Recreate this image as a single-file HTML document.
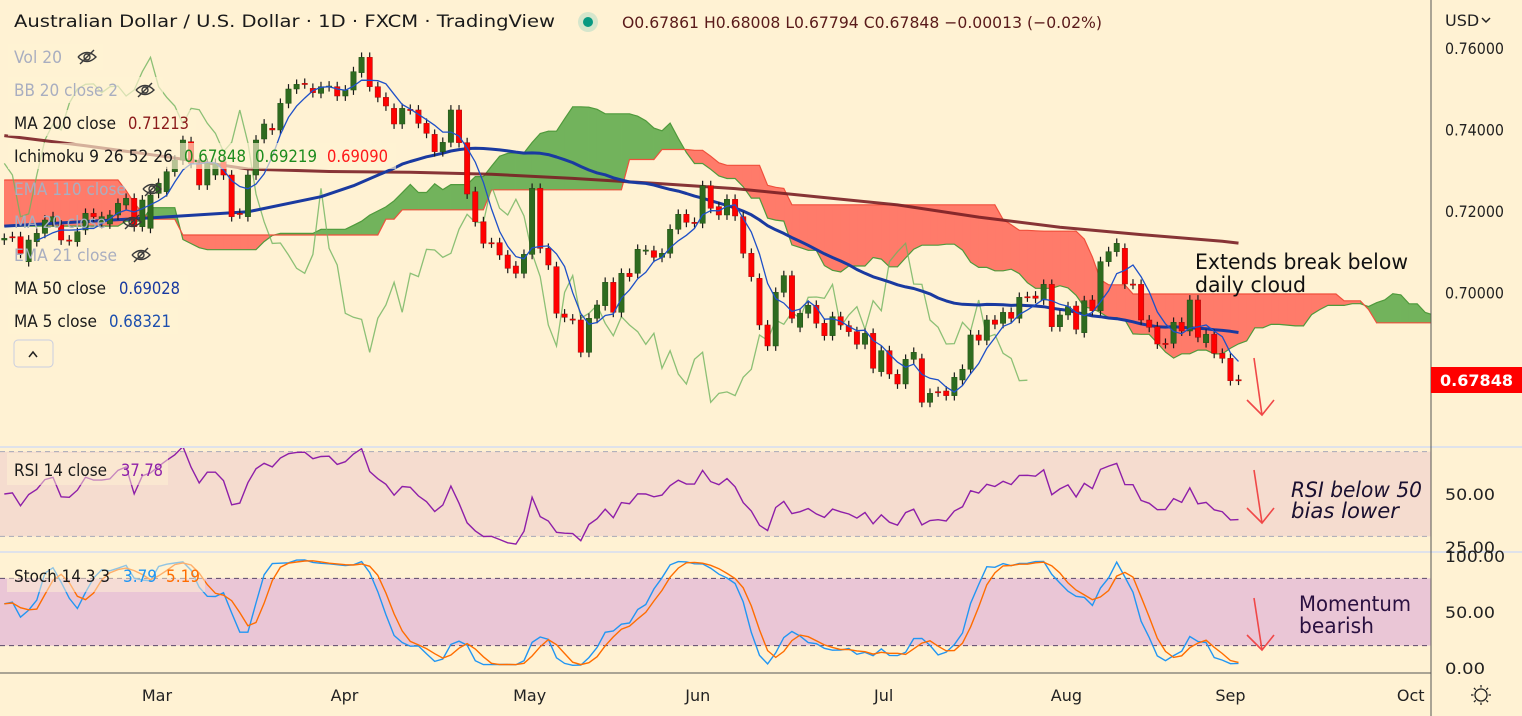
<!DOCTYPE html>
<html><head><meta charset="utf-8">
<style>
html,body{margin:0;padding:0;background:#fff2d3;}
svg{display:block;font-family:"DejaVu Sans","Liberation Sans",sans-serif;}
</style></head>
<body>
<svg id="chart" width="1522" height="716" viewBox="0 0 1522 716" xmlns="http://www.w3.org/2000/svg">
<defs>
<clipPath id="clipMain"><rect x="0" y="0" width="1431" height="447"/></clipPath>
<clipPath id="clipRsi"><rect x="0" y="447" width="1431" height="105"/></clipPath>
<clipPath id="clipSto"><rect x="0" y="552" width="1431" height="121"/></clipPath>
</defs>
<rect x="0" y="0" width="1522" height="716" fill="#fff2d3"/>
<g id="main" clip-path="url(#clipMain)"></g>
<g id="rsi" clip-path="url(#clipRsi)"></g>
<g id="sto" clip-path="url(#clipSto)"></g>
<g id="axes"></g>
<g id="overlay"></g>
</svg>
<script>
// ---------- DATA ----------
const opens = [0.71288,0.71370,0.71370,0.70757,0.71247,0.71452,0.71738,0.71656,0.71288,0.71247,
0.71534,0.71943,0.71697,0.71681,0.71902,0.72147,0.72311,0.71615,0.71575,0.72433,
0.72474,0.72965,0.73251,0.73701,0.73169,0.72638,0.72883,0.73210,0.72883,0.71943,
0.71861,0.72883,0.73767,0.74029,0.73988,0.74642,0.74994,0.75133,0.75010,0.74887,
0.75051,0.75051,0.74822,0.74969,0.75395,0.75771,0.75051,0.74789,0.74519,0.74135,
0.74495,0.74479,0.74151,0.73881,0.73456,0.73685,0.74479,0.73677,0.72474,0.71738,
0.71223,0.71223,0.70920,0.70650,0.70470,0.70936,0.72556,0.71084,0.70634,0.69473,
0.69350,0.69326,0.68532,0.69367,0.69677,0.70250,0.69514,0.70471,0.70471,0.71043,
0.71027,0.70863,0.70962,0.71551,0.71919,0.71722,0.71698,0.72622,0.72107,0.71902,
0.72287,0.71861,0.70962,0.70348,0.69203,0.68688,0.70004,0.70414,0.69146,0.69489,
0.69686,0.69244,0.68941,0.69407,0.69187,0.69039,0.68729,0.68998,0.68058,0.68573,
0.67992,0.67755,0.68360,0.68377,0.67305,0.67567,0.67583,0.67469,0.67853,0.68115,
0.68958,0.68827,0.69325,0.69243,0.69513,0.69366,0.69898,0.69914,0.69816,0.70200,
0.69161,0.69448,0.69669,0.69014,0.69816,0.69554,0.70757,0.71002,0.71084,0.70208,
0.70200,0.69325,0.69161,0.68752,0.68752,0.69268,0.69055,0.69816,0.68769,0.68973,
0.68507,0.68384,0.67861];
const closes = [0.71329,0.71362,0.70961,0.71288,0.71452,0.71779,0.71861,0.71288,0.71272,0.71493,
0.71943,0.71861,0.71861,0.71902,0.72188,0.72311,0.71615,0.72270,0.72393,0.72679,
0.72965,0.73251,0.73742,0.73169,0.72638,0.73169,0.73169,0.72883,0.71861,0.71930,
0.72883,0.73742,0.74135,0.73988,0.74642,0.74994,0.75108,0.75120,0.74904,0.75051,
0.75067,0.74822,0.74969,0.75419,0.75771,0.75051,0.74789,0.74577,0.74135,0.74519,
0.74487,0.74151,0.73906,0.73456,0.73685,0.74479,0.73677,0.72417,0.71738,0.71206,
0.71215,0.70920,0.70593,0.70470,0.70936,0.72556,0.71084,0.70675,0.69489,0.69391,
0.69340,0.68532,0.69367,0.69694,0.70250,0.69514,0.70471,0.70389,0.71060,0.71043,
0.70863,0.70962,0.71551,0.71919,0.71722,0.71715,0.72622,0.72066,0.71902,0.72287,
0.71878,0.70962,0.70389,0.69203,0.68688,0.70004,0.70414,0.69367,0.69489,0.69686,
0.69244,0.68941,0.69407,0.69203,0.69039,0.68729,0.68998,0.68140,0.68573,0.68000,
0.67755,0.68360,0.68532,0.67305,0.67526,0.67560,0.67469,0.67919,0.68115,0.68958,
0.68827,0.69326,0.69219,0.69513,0.69366,0.69881,0.69890,0.69857,0.70200,0.69161,
0.69448,0.69652,0.69096,0.69799,0.69554,0.70757,0.71002,0.71207,0.70208,0.70200,
0.69325,0.69145,0.68736,0.68745,0.69268,0.69055,0.69816,0.68900,0.68973,0.68507,
0.68384,0.67836,0.67848];
const ma200Bars = [0,10,20,30,40,50,60,70,80,90,100,110,120,130,140,150,152];
const ma200Vals = [0.7385,0.7360,0.7333,0.7303,0.7297,0.7295,0.7290,0.7280,0.7268,0.7255,0.7235,0.7215,0.7185,0.7160,0.7142,0.7126,0.71213];
const ma50EarlyBars = [0,18,30,39,43,48];
const ma50EarlyVals = [0.7163,0.7183,0.7198,0.7235,0.7262,0.7305];
const spanAEarly = [0.7163,0.7163,0.7163,0.7163,0.7163,0.7163,0.7163,0.7163,0.7163,0.7163,
0.7163,0.7163,0.7163,0.7163,0.7163,0.7175,0.7175,0.7175,0.7208,0.7208,
0.7208,0.7208,0.7130,0.7120,0.7110,0.7105,0.7105,0.7105,0.7105,0.7105,
0.7105,0.7105,0.7125,0.7140,0.7145,0.7145,0.7145,0.7145,0.7145,0.7155,
0.7155,0.7155,0.7155,0.7165,0.7175,0.7190,0.7200,0.7210,0.7225,0.7245,0.7265];
const spanBEarly = [0.7276,0.7276,0.7276,0.7276,0.7276,0.7276,0.7276,0.7276,0.7276,0.7276,
0.7276,0.7276,0.7276,0.7276,0.7276,0.7250,0.7220,0.7195,0.7180,0.7180,
0.7180,0.7180,0.7141,0.7141,0.7141,0.7141,0.7141,0.7141,0.7141,0.7141,
0.7141,0.7141,0.7141,0.7141,0.7141,0.7141,0.7141,0.7141,0.7141,0.7141,
0.7141,0.7141,0.7141,0.7141,0.7141,0.7141,0.7141,0.7180,0.7180,0.7203,
0.7203,0.7203,0.7203,0.7203,0.7203,0.7203,0.7203,0.7203,0.7203,0.7203,
0.7252,0.7252,0.7252,0.7252,0.7252,0.7252,0.7252,0.7252,0.7252,0.7252,
0.7252,0.7252,0.7252,0.7252,0.7252,0.7252,0.7252];
const priceTicks = [0.76,0.74,0.72,0.70];
const priceTickLabels = ["0.76000","0.74000","0.72000","0.70000"];
const rsiTicks = [50,25];
const rsiTickLabels = ["50.00","25.00"];
const stoTicks = [100,50,0];
const stoTickLabels = ["100.00","50.00","0.00"];
const monthLabels = ["Mar","Apr","May","Jun","Jul","Aug","Sep","Oct"];
const monthBars = [18.8,41.9,64.7,85.4,108.3,130.8,151,173.2];

// ---------- SCALES ----------
const NS="http://www.w3.org/2000/svg";
const xB = i => 4.3 + i*8.12;
const yP = p => 48 + (0.76 - p)*4075;
const yR = v => 494 + (50 - v)*2.12;
const yS = v => 668 - v*1.12;
const N = closes.length;
const WICK = 0.0012;
const highs = closes.map((c,i)=>Math.max(c,opens[i])+WICK);
const lows = closes.map((c,i)=>Math.min(c,opens[i])-WICK);

function mk(tag, attrs, parent){const e=document.createElementNS(NS,tag);for(const k in attrs)e.setAttribute(k,attrs[k]);parent.appendChild(e);return e;}
function poly(pts){return pts.map(p=>p[0].toFixed(1)+","+p[1].toFixed(1)).join(" ");}
const main=document.getElementById('main'), rsiG=document.getElementById('rsi'), stoG=document.getElementById('sto'), axes=document.getElementById('axes'), ov=document.getElementById('overlay');

// ---------- ICHIMOKU CLOUD ----------
function hh(a,b){let m=-1;for(let k=a;k<=b;k++)m=Math.max(m,highs[k]);return m;}
function ll(a,b){let m=9;for(let k=a;k<=b;k++)m=Math.min(m,lows[k]);return m;}
const spanA=[],spanB=[];
for(let j=0;j<N+26;j++){
  const s=j-26;
  if(j<spanAEarly.length) spanA.push(spanAEarly[j]);
  else {const t=(hh(s-8,s)+ll(s-8,s))/2, kj=(hh(s-25,s)+ll(s-25,s))/2; spanA.push((t+kj)/2);}
  if(j<spanBEarly.length) spanB.push(spanBEarly[j]);
  else spanB.push((hh(s-51,s)+ll(s-51,s))/2);
}
const cloudG=mk('g',{},main);


for(let j=0;j<spanA.length-1;j++){
  const up=(spanA[j]+spanA[j+1])>=(spanB[j]+spanB[j+1]);
  const q=mk('polygon',{points:poly([[xB(j),yP(spanA[j])],[xB(j+1),yP(spanA[j+1])],[xB(j+1),yP(spanB[j+1])],[xB(j),yP(spanB[j])]]),fill:up?'#72b35c':'#ff7b6a',stroke:up?'#72b35c':'#ff7b6a','stroke-width':0.6},cloudG);
  
  
}
const saL=mk('polyline',{points:poly(spanA.map((v,j)=>[xB(j),yP(v)])),fill:'none',stroke:'#4f9a3c','stroke-width':1.2},main);


const sbL=mk('polyline',{points:poly(spanB.map((v,j)=>[xB(j),yP(v)])),fill:'none',stroke:'#f0503c','stroke-width':1.2},main);



const lag=mk('polyline',{points:poly(closes.slice(26).map((c,k)=>[xB(k),yP(c)])),fill:'none',stroke:'#6fb35e','stroke-opacity':0.8,'stroke-width':1.3},main);



const m200=mk('polyline',{points:poly(ma200Bars.map((b,k)=>[xB(b),yP(ma200Vals[k])])),fill:'none',stroke:'#7a1f25','stroke-width':3,'stroke-opacity':0.9},main);


const ma50pts=ma50EarlyBars.map((b,k)=>[xB(b),yP(ma50EarlyVals[k])]);
for(let i=49;i<N;i++){let s=0;for(let k=i-49;k<=i;k++)s+=closes[k];ma50pts.push([xB(i),yP(s/50)]);}
const m50=mk('polyline',{points:poly(ma50pts),fill:'none',stroke:'#1a3aa0','stroke-width':3,'stroke-linejoin':'round'},main);



const cg=mk('g',{},main);


for(let i=0;i<N;i++){
  const up=closes[i]>=opens[i], x=xB(i);
  const g=mk('g',{},cg);
  
  
  mk('line',{x1:x,x2:x,y1:yP(highs[i]),y2:yP(lows[i]),stroke:'#1a1a1a','stroke-width':1.2},g);
  const t=yP(Math.max(opens[i],closes[i])), b=yP(Math.min(opens[i],closes[i]));
  mk('rect',{x:x-2.7,y:t,width:5.4,height:Math.max(1.2,b-t),fill:up?'#2e6b1f':'#ff0000',stroke:up?'#1f4f14':'#a01010','stroke-width':0.5},g);
}
const ma5pts=[];for(let i=4;i<N;i++){let s=0;for(let k=i-4;k<=i;k++)s+=closes[k];ma5pts.push([xB(i),yP(s/5)]);}
const m5=mk('polyline',{points:poly(ma5pts),fill:'none',stroke:'#1e50c8','stroke-width':1.3},main);



// ---------- RSI ----------
const rb=mk('rect',{x:0,y:yR(70),width:1431,height:yR(30)-yR(70),fill:'#f5dccf'},rsiG);


[70,30].forEach(v=>{const l=mk('line',{x1:0,x2:1431,y1:yR(v),y2:yR(v),stroke:'#a8a8b8','stroke-dasharray':'5,4'},rsiG);});
let ag=0.0012,al=0.0012;const rsi=[50];
for(let i=1;i<N;i++){const d=closes[i]-closes[i-1];const g=Math.max(d,0),l=Math.max(-d,0);ag=(ag*13+g)/14;al=(al*13+l)/14;rsi.push(100-100/(1+ag/al));}
const rl=mk('polyline',{points:poly(rsi.map((v,i)=>[xB(i),yR(v)])),fill:'none',stroke:'#8e1fa8','stroke-width':1.4},rsiG);



// ---------- STOCH ----------
const sb=mk('rect',{x:0,y:yS(80),width:1431,height:yS(20)-yS(80),fill:'#eac6d6'},stoG);


[80,20].forEach(v=>{const l=mk('line',{x1:0,x2:1431,y1:yS(v),y2:yS(v),stroke:'#5a4a6a','stroke-dasharray':'5,4'},stoG);});
const raw=[];for(let i=0;i<N;i++){const a=Math.max(0,i-13);const H=hh(a,i),L=ll(a,i);raw.push((closes[i]-L)/(H-L)*100);}
const sma3=a=>a.map((v,i)=>{const s=a.slice(Math.max(0,i-2),i+1);return s.reduce((x,y)=>x+y,0)/s.length;});
const K=sma3(raw),D=sma3(K);
const kl=mk('polyline',{points:poly(K.map((v,i)=>[xB(i),yS(v)])),fill:'none',stroke:'#2196f3','stroke-width':1.4},stoG);


const dl=mk('polyline',{points:poly(D.map((v,i)=>[xB(i),yS(v)])),fill:'none',stroke:'#ff6d00','stroke-width':1.4},stoG);



// ---------- AXES ----------
mk('line',{x1:0,x2:1522,y1:447,y2:447,stroke:'#dfe2ea','stroke-width':2},axes);
mk('line',{x1:0,x2:1522,y1:552,y2:552,stroke:'#dfe2ea','stroke-width':2},axes);
mk('line',{x1:1431,x2:1431,y1:0,y2:716,stroke:'#555','stroke-width':1},axes);
mk('line',{x1:0,x2:1431,y1:673,y2:673,stroke:'#555','stroke-width':1},axes);
function txt(s,x,y,attrs,parent,name,inter){const t=mk('text',Object.assign({x:x,y:y},attrs),parent||ov);t.textContent=s;return t;}
const AX={'font-size':16,fill:'#222',textLength:59,lengthAdjust:'spacingAndGlyphs'};
priceTicks.forEach((v,k)=>txt(priceTickLabels[k],1445,yP(v)+6,AX,axes,'price-tick-label',false));
rsiTicks.forEach((v,k)=>txt(rsiTickLabels[k],1445,yR(v)+6,Object.assign({},AX,{textLength:50}),axes,'rsi-tick-label',false));
stoTicks.forEach((v,k)=>txt(stoTickLabels[k],1445,yS(v)+6,Object.assign({},AX,{textLength:stoTickLabels[k].length*10}),axes,'stoch-tick-label',false));
monthLabels.forEach((m,k)=>txt(m,xB(monthBars[k]),701,{'font-size':16,fill:'#222','text-anchor':'middle'},axes,'month-label',false));
const lpl=mk('rect',{x:1431,y:367,width:91,height:26,fill:'#ff0000'},axes);


txt('0.67848',1440,386,{'font-size':16,'font-weight':'bold',fill:'#fff',textLength:73,lengthAdjust:'spacingAndGlyphs'},axes,'last-price-text',false);
txt('USD',1445,26,{'font-size':16,fill:'#222'},axes,'currency-selector',true);
const chev=mk('polyline',{points:'1482,18 1486,22 1490,18',fill:'none',stroke:'#222','stroke-width':1.5},axes);


const sun=mk('g',{},axes);


mk('circle',{cx:1481,cy:695,r:6,fill:'none',stroke:'#222','stroke-width':1.3},sun);
for(let a=0;a<8;a++){const r=a*Math.PI/4;mk('line',{x1:1481+Math.cos(r)*7.5,y1:695+Math.sin(r)*7.5,x2:1481+Math.cos(r)*10,y2:695+Math.sin(r)*10,stroke:'#222','stroke-width':1.3},sun);}

// ---------- LEGEND ----------
const bg='rgba(255,242,211,0.65)';
function lt(s,x0,x1,y,fill,name,inter){return txt(s,x0,y,{'font-size':17,fill:fill,textLength:x1-x0,lengthAdjust:'spacingAndGlyphs'},ov,name,inter);}
txt('Australian Dollar / U.S. Dollar · 1D · FXCM · TradingView',14,27,{'font-size':17,fill:'#1a1a1a',textLength:541,lengthAdjust:'spacingAndGlyphs'},ov,'chart-title',false);
mk('circle',{cx:588,cy:22,r:10,fill:'#d5e6cc'},ov);
const dot=mk('circle',{cx:588,cy:22,r:5,fill:'#089981'},ov);


txt('O0.67861  H0.68008  L0.67794  C0.67848  −0.00013 (−0.02%)',622,28,{'font-size':16,fill:'#5a1a1a',textLength:480,lengthAdjust:'spacingAndGlyphs','xml:space':'preserve'},ov,'ohlc-values',false);
function eye(x,y){const g=mk('g',{fill:'none',stroke:'#3a3a3a','stroke-width':1.4},ov);mk('path',{d:`M${x-9},${y} Q${x},${y-9} ${x+9},${y} Q${x},${y+9} ${x-9},${y}`},g);mk('circle',{cx:x,cy:y,r:3},g);mk('line',{x1:x-7,y1:y+7,x2:x+7,y2:y-7},g);}
function row(y,w){mk('rect',{x:8,y:y-13,width:w,height:26,fill:bg},ov);}
row(57,95);lt('Vol 20',14,62,63,'#a9aec0','legend-vol',true);eye(87,57);
row(90,155);lt('BB 20 close 2',14,118,96,'#a9aec0','legend-bb',true);eye(145,90);
row(123,188);lt('MA 200 close',14,116,129,'#1a1a1a','legend-ma200',true);lt('0.71213',128,189,129,'#8b1a1a','legend-ma200-value',false);
row(156,388);lt('Ichimoku 9 26 52 26',14,173,162,'#1a1a1a','legend-ichimoku',true);
lt('0.67848',184,246,162,'#1e8c1e','ichimoku-lagging-value',false);
lt('0.69219',255,317,162,'#1e8c1e','ichimoku-span-a-value',false);
lt('0.69090',327,388,162,'#ff1a1a','ichimoku-span-b-value',false);
lt('EMA 110 close',14,126,195,'#a9aec0','legend-ema110',true);eye(152,189);
lt('MA 20 close',14,106,228,'#a9aec0','legend-ma20',true);eye(132,222);
lt('EMA 21 close',14,117,261,'#a9aec0','legend-ema21',true);eye(141,255);
row(288,180);lt('MA 50 close',14,106,294,'#1a1a1a','legend-ma50',true);lt('0.69028',119,180,294,'#1a3aa0','legend-ma50-value',false);
row(321,170);lt('MA 5 close',14,97,327,'#1a1a1a','legend-ma5',true);lt('0.68321',109,171,327,'#1d4fae','legend-ma5-value',false);
const cb=mk('rect',{x:14,y:340,width:39,height:27,rx:4,fill:'#fff2d3',stroke:'#c8cde0'},ov);


mk('polyline',{points:'29,357 33,352 37,357',fill:'none',stroke:'#222','stroke-width':1.5},ov);
mk('rect',{x:7,y:453,width:161,height:32,fill:'rgba(255,242,211,0.5)'},ov);
lt('RSI 14 close',14,107,476,'#1a1a1a','legend-rsi',true);lt('37.78',121,163,476,'#8e1fa8','legend-rsi-value',false);
mk('rect',{x:7,y:560,width:198,height:32,fill:'rgba(255,242,211,0.5)'},ov);
lt('Stoch 14 3 3',14,110,582,'#1a1a1a','legend-stoch',true);
lt('3.79',123,157,582,'#2196f3','legend-stoch-k',false);
lt('5.19',166,200,582,'#ff6d00','legend-stoch-d',false);

// ---------- ANNOTATIONS ----------
txt('Extends break below',1195,269,{'font-size':21,fill:'#111',textLength:213,lengthAdjust:'spacingAndGlyphs'},ov,'annotation-break',false);
txt('daily cloud',1195,292,{'font-size':21,fill:'#111',textLength:111,lengthAdjust:'spacingAndGlyphs'},ov,'annotation-cloud',false);
txt('RSI below 50',1291,497,{'font-size':21,'font-style':'italic',fill:'#1a1030',textLength:131,lengthAdjust:'spacingAndGlyphs'},ov,'annotation-rsi',false);
txt('bias lower',1291,518,{'font-size':21,'font-style':'italic',fill:'#1a1030',textLength:108,lengthAdjust:'spacingAndGlyphs'},ov,'annotation-rsi-bias',false);
txt('Momentum',1299,611,{'font-size':21,fill:'#2a1040',textLength:112,lengthAdjust:'spacingAndGlyphs'},ov,'annotation-momentum',false);
txt('bearish',1299,633,{'font-size':21,fill:'#2a1040',textLength:75,lengthAdjust:'spacingAndGlyphs'},ov,'annotation-bearish',false);
function arrow(x1,y1,x2,y2,name){const g=mk('g',{stroke:'#f04848','stroke-width':1.6,fill:'none'},ov);mk('line',{x1:x1,y1:y1,x2:x2,y2:y2},g);mk('polyline',{points:`${x2-15},${y2-15} ${x2},${y2} ${x2+12},${y2-15}`},g);}
arrow(1254,358,1262,415,'price-down-arrow');
arrow(1254,470,1262,523,'rsi-down-arrow');
arrow(1254,598,1262,650,'stoch-down-arrow');
</script>
</body></html>
